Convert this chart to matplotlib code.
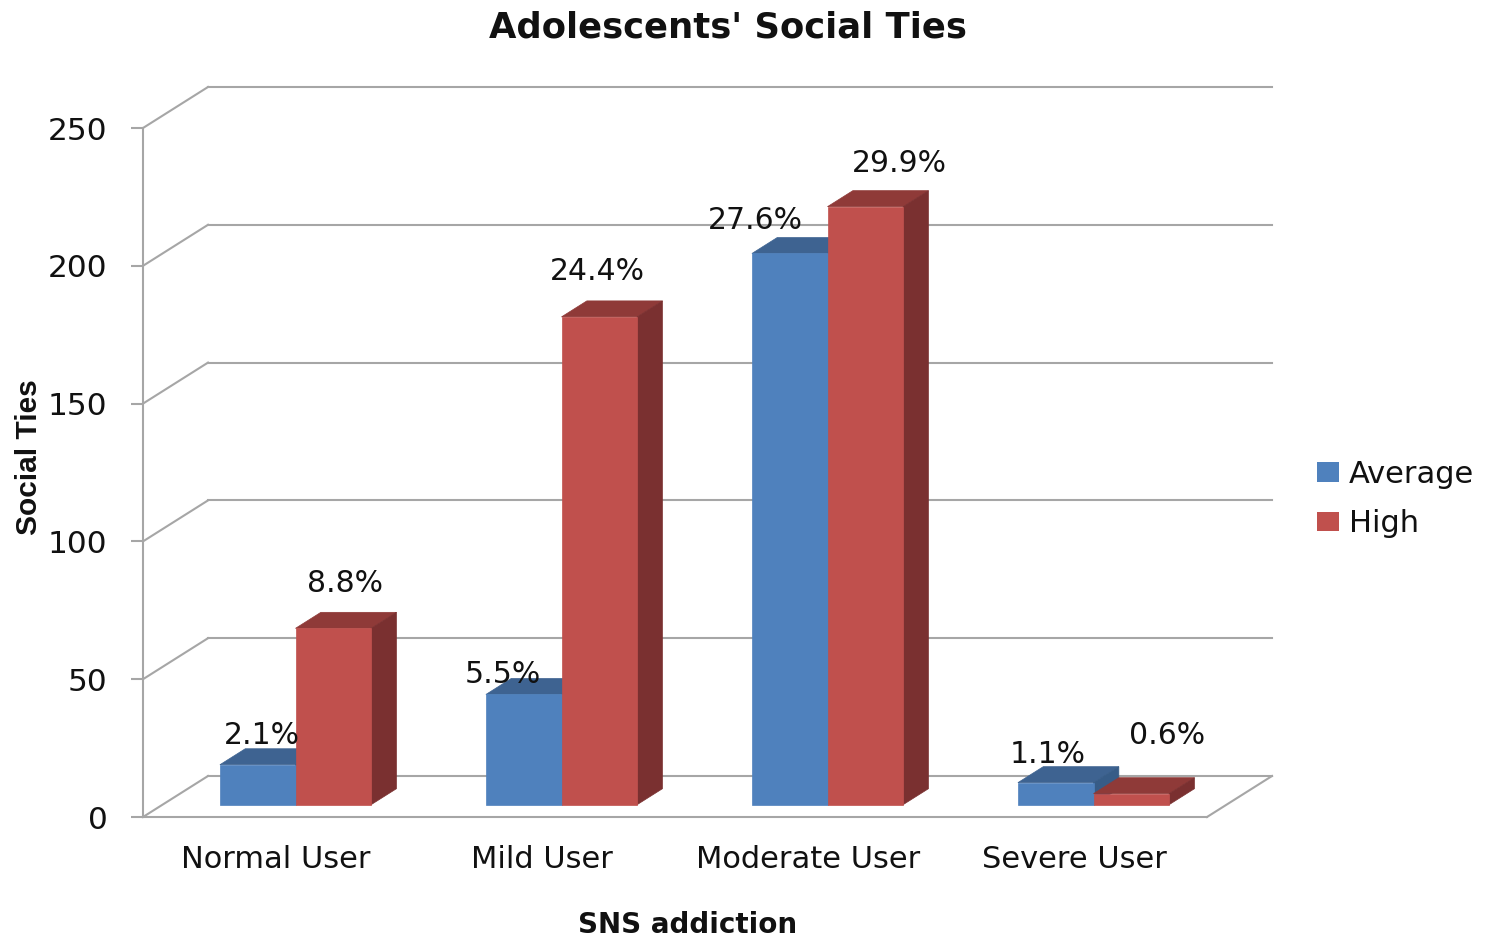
import numpy as np
import matplotlib
matplotlib.use('Agg')
import matplotlib.pyplot as plt
from matplotlib.patches import Polygon, Patch

categories = ['Normal User', 'Mild User', 'Moderate User', 'Severe User']
average = [14.5, 40, 200, 8]
high = [64, 177, 217, 4]
average_labels = ['2.1%', '5.5%', '27.6%', '1.1%']
high_labels = ['8.8%', '24.4%', '29.9%', '0.6%']
yticks = [0, 50, 100, 150, 200, 250]

W, H = 1485, 938
GRID = '#A6A6A6'
BLUE = ('#4F81BD', '#3E6391', '#375C87')
RED = ('#C0504D', '#8F3A38', '#7A3030')

fig = plt.figure(figsize=(W / 100, H / 100), dpi=100)
ax = fig.add_axes([143 / W, 1 - 817 / H, 1064 / W, 689 / H])
ax.set_xlim(0, 4)
ax.set_ylim(0, 250)

# depth of the fake 3d box, in data units
DX = 65 / 266
DY = 41 / 2.756
BW = 75.6 / 266
D0, D1 = 0.30, 0.69


def pt(x, y, d):
    return (x + d * DX, y + d * DY)


def draw_bar(x, val, colors, z):
    front = [pt(x, 0, D0), pt(x + BW, 0, D0), pt(x + BW, val, D0), pt(x, val, D0)]
    top = [pt(x, val, D0), pt(x + BW, val, D0), pt(x + BW, val, D1), pt(x, val, D1)]
    side = [pt(x + BW, 0, D0), pt(x + BW, 0, D1), pt(x + BW, val, D1), pt(x + BW, val, D0)]
    for verts, c in zip([top, side, front], [colors[1], colors[2], colors[0]]):
        ax.add_patch(Polygon(verts, closed=True, fc=c, ec=c, lw=0.5, zorder=z, clip_on=False))


# walls and floor
for v in yticks:
    ax.plot([0, DX], [v, v + DY], color=GRID, lw=1.5, zorder=1, clip_on=False)
    ax.plot([DX, 4 + DX], [v + DY, v + DY], color=GRID, lw=1.5, zorder=1, clip_on=False)
ax.plot([4, 4 + DX], [0, DY], color=GRID, lw=1.5, zorder=1, clip_on=False)

for i in range(4):
    x0 = i + (1 - 2 * BW) / 2
    draw_bar(x0, average[i], BLUE, 3)
    draw_bar(x0 + BW, high[i], RED, 4)

# label offsets in px from the bar's front top centre
avg_off = [(4, 29), (-21, 20), (-34, 33), (-8, 28)]
high_off = [(12, 45), (-2, 45), (34, 43), (36, 58)]
for i in range(4):
    x0 = i + (1 - 2 * BW) / 2
    for x, val, lab, off in [(x0, average[i], average_labels[i], avg_off[i]),
                             (x0 + BW, high[i], high_labels[i], high_off[i])]:
        ax.annotate(lab, pt(x + BW / 2, val, D0), xytext=(off[0] * 0.72, off[1] * 0.72),
                    textcoords='offset points', ha='center', va='center',
                    fontsize=21.5, color='#111111', zorder=6, annotation_clip=False)

for s in ['top', 'right']:
    ax.spines[s].set_visible(False)
for s in ['left', 'bottom']:
    ax.spines[s].set_color(GRID)
    ax.spines[s].set_linewidth(1.5)
ax.patch.set_alpha(0)

ax.set_yticks(yticks)
ax.tick_params(axis='y', length=8.5, width=1.5, color=GRID, labelsize=22.5, pad=17, labelcolor='#111111')
ax.set_xticks(np.arange(4) + 0.5)
ax.set_xticklabels(categories)
ax.tick_params(axis='x', length=0, labelsize=22, pad=20, labelcolor='#111111')

fig.text(728 / W, 1 - 27 / H, "Adolescents' Social Ties", ha='center', va='center',
         fontsize=25.5, fontweight='bold', color='#111111')
fig.text(688 / W, 1 - 925 / H, 'SNS addiction', ha='center', va='center',
         fontsize=20, fontweight='bold', color='#111111')
fig.text(29 / W, 1 - 457 / H, 'Social Ties', ha='center', va='center', rotation=90,
         fontsize=21.5, fontweight='bold', color='#111111', family='Liberation Sans')

handles = [Patch(fc=BLUE[0], label='Average'), Patch(fc=RED[0], label='High')]
fig.legend(handles=handles, loc='center left', bbox_to_anchor=(1289 / W, 1 - 499 / H),
           frameon=False, fontsize=22, handlelength=0.72, handleheight=0.6,
           handletextpad=0.33, labelspacing=0.68, labelcolor='#111111')

fig.savefig('out.png', dpi=100)
